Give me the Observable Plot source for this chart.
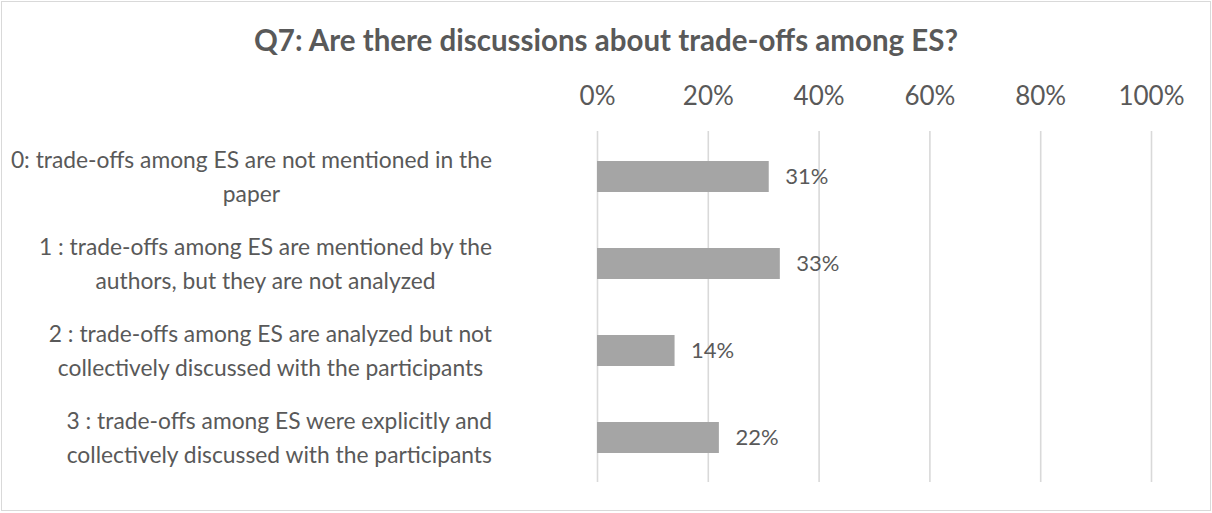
<!DOCTYPE html>
<html>
<head>
<meta charset="utf-8">
<script src="https://cdn.jsdelivr.net/npm/d3@7"></script>
<script src="https://cdn.jsdelivr.net/npm/@observablehq/plot@0.6"></script>
<style>
  html, body { margin: 0; padding: 0; background: #fff; }
  #frame {
    position: absolute; left: 1px; top: 1px; width: 1210px; height: 510px;
    box-sizing: border-box; border: 1px solid #d9d9d9; background: #fff;
    font-family: Lato, "Open Sans", sans-serif; color: #595959;
  }
  #title {
    height: 70px; line-height: 76px; text-align: center;
    font-weight: bold; font-size: 29.5px; color: #595959; white-space: nowrap;
  }
  svg { display: block; }
</style>
</head>
<body>
<div id="frame">
  <div id="title">Q7: Are there discussions about trade-offs among ES?</div>
  <div id="chart"></div>
</div>
<script>
const categories = [
  "0: trade-offs among ES are not mentioned in the\npaper",
  "1 : trade-offs among ES are mentioned by the\nauthors, but they are not analyzed",
  "2 : trade-offs among ES are analyzed but not\ncollectively discussed with the participants",
  "3 : trade-offs among ES were explicitly and\ncollectively discussed with the participants"
];
const values = [31, 33, 14, 22];
const tickValues = [0, 20, 40, 60, 80, 100];

const data = categories.map((c, i) => ({category: c, value: values[i]}));

const TEXT = "#595959";
const FONT = "Lato, 'Open Sans', sans-serif";

const chart = Plot.plot({
  width: 1208,
  height: 438,
  marginTop: 59,
  marginBottom: 28,
  marginLeft: 595,
  marginRight: 59,
  style: {fontFamily: FONT, color: TEXT, background: "transparent"},
  x: {domain: [0, 100], axis: null},
  y: {domain: categories, axis: null, paddingInner: 0.647, paddingOuter: 0.3235},
  marks: [
    Plot.gridX(tickValues, {stroke: "#d9d9d9", strokeOpacity: 1, strokeWidth: 1.6}),
    Plot.axisX(tickValues, {
      anchor: "top", tickSize: 0, tickPadding: 27, label: null,
      tickFormat: d => d + "%", fontSize: 26, fill: TEXT
    }),
    Plot.barX(data, {x: "value", y: "category", fill: "#a5a5a5"}),
    Plot.text(data, {
      x: "value", y: "category", text: d => d.value + "%",
      textAnchor: "start", dx: 16, fontSize: 22, fill: TEXT
    }),
    Plot.text(data, {
      y: "category", text: "category", frameAnchor: "left",
      textAnchor: "middle", lineHeight: 1.52, fontSize: 22.8, fill: TEXT,
      dy: -3, className: "catlabels"
    })
  ]
});

document.getElementById("chart").appendChild(chart);

// Right-align each centered label block so its right edge sits a fixed gap left of the 0% line
const svgRect = chart.getBoundingClientRect();
const zeroX = 595; // marginLeft (x=0 in svg coords)
const gap = 105;
chart.querySelectorAll("g.catlabels text").forEach(t => {
  const r = t.getBoundingClientRect();
  const right = r.right - svgRect.left;
  const shift = (zeroX - gap) - right;
  const tr = t.getAttribute("transform") || "";
  t.setAttribute("transform", tr + ` translate(${shift},0)`);
});
</script>
</body>
</html>
